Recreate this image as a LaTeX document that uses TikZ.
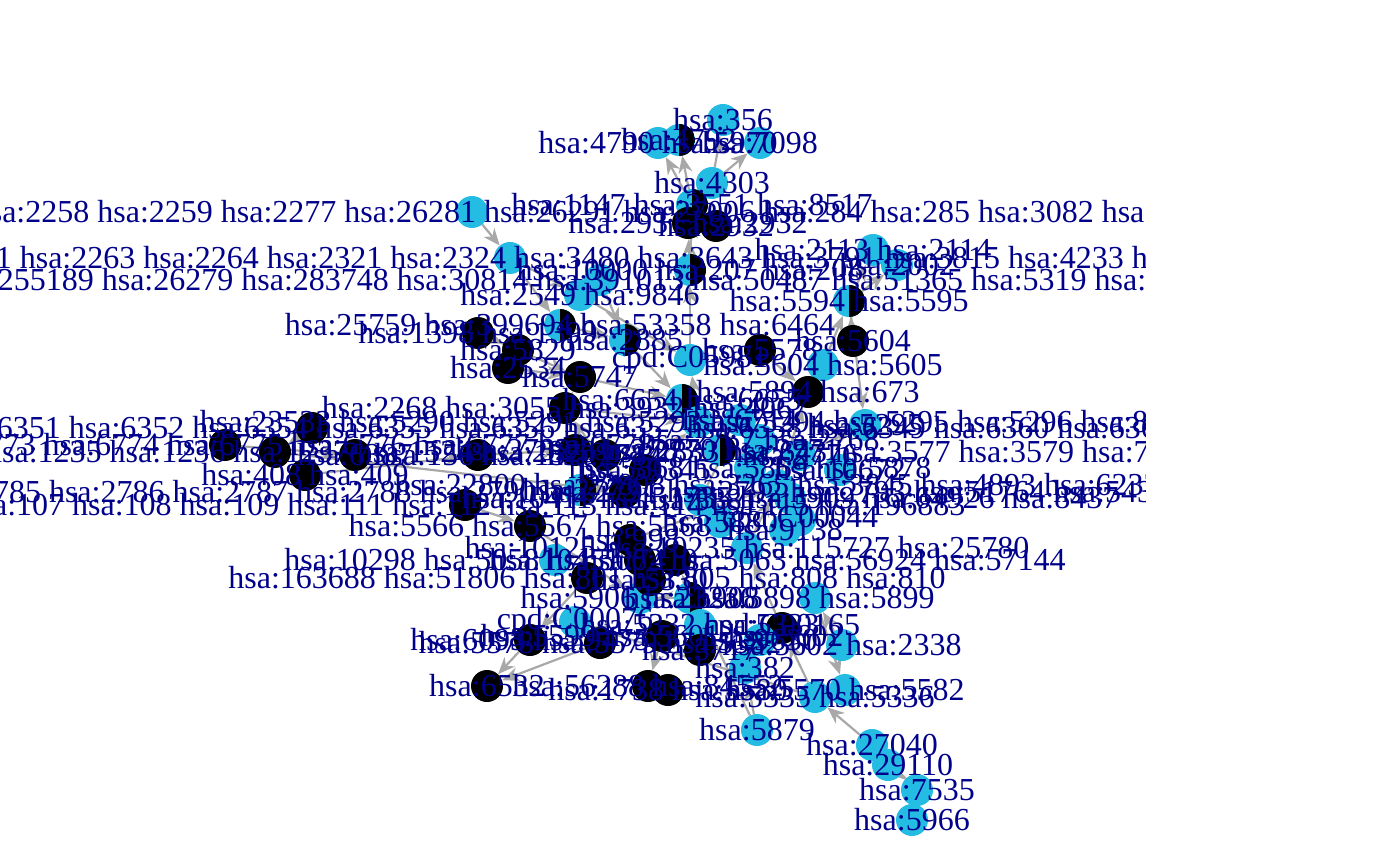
\documentclass[tikz,border=0pt]{standalone}
\usepackage{fontspec}
\setmainfont{Liberation Serif}
\usetikzlibrary{arrows.meta}

\definecolor{vblue}{RGB}{37,188,228}
\definecolor{vtext}{RGB}{0,0,139}
\definecolor{vedge}{RGB}{168,168,168}

% name/x/y/kind/label
\newcommand\vertexlist{%
n356/723/120/b/hsa:356,
n4790/658/143/b/hsa:4790 hsa:5970,
n4792/679/140/h/hsa:4792,
n7098/760/143/b/hsa:7098,
n4303/712/183/b/hsa:4303,
nikk/692/205/h/hsa:1147 hsa:3551 hsa:8517,
n2931/688/223/k/hsa:2931 hsa:2932,
n2932/716/226/k/hsa:2932,
nfgf/472/212/b/hsa:2256 hsa:2257 hsa:2258 hsa:2259 hsa:2277 hsa:26281 hsa:26291 hsa:27006 hsa:284 hsa:285 hsa:3082 hsa:3479,
nrtk/510/258/b/hsa:2260 hsa:2261 hsa:2263 hsa:2264 hsa:2321 hsa:2324 hsa:3480 hsa:3643 hsa:3791 hsa:3815 hsa:4233 hsa:4914,
npla/600/280/b/hsa:100137049 hsa:255189 hsa:26279 hsa:283748 hsa:30814 hsa:391013 hsa:50487 hsa:51365 hsa:5319 hsa:5320 hsa:5322 hsa:5337,
ngab/580/295/b/hsa:2549 hsa:9846,
nakt/690/270/h/hsa:10000 hsa:207 hsa:208,
nets/873/250/b/hsa:2113 hsa:2114,
nelk/897/265/b/hsa:2002,
nerk/849/301/h/hsa:5594 hsa:5595,
nshc/560/325/h/hsa:25759 hsa:399694 hsa:53358 hsa:6464,
ngrb/625/340/h/hsa:2885,
ncrk/478/333/k/hsa:1398 hsa:1399,
npxn/518/350/k/hsa:5829,
nfyn/508/368/k/hsa:2534,
nfak/580/377/k/hsa:5747,
npip/690/360/b/cpd:C05981,
nprk/760/350/k/hsa:5578,
nmekb/853/341/k/hsa:5604,
nmek/823/365/b/hsa:5604 hsa:5605,
nraf/808/392/k/hsa:5894 hsa:673,
nsos/682/400/h/hsa:6654 hsa:6655,
nsrc/565/408/k/hsa:2268 hsa:3055 hsa:3932 hsa:4067,
npik/698/422/b/hsa:23533 hsa:5290 hsa:5291 hsa:5293 hsa:5294 hsa:5295 hsa:5296 hsa:8503,
nccl/312/428/k/hsa:6346 hsa:6347 hsa:6348 hsa:6350 hsa:6351 hsa:6352 hsa:6354 hsa:6355 hsa:6356 hsa:6357 hsa:6358 hsa:6349 hsa:6360 hsa:6364,
nstat/225/445/k/hsa:6772 hsa:6773 hsa:6774 hsa:6775 hsa:6776 hsa:6777 hsa:6778,
nccr/275/452/k/hsa:10663 hsa:1230 hsa:1232 hsa:1233 hsa:1234 hsa:1235 hsa:1236 hsa:1237 hsa:1524 hsa:2826 hsa:2833 hsa:643 hsa:3577 hsa:3579 hsa:7852,
ncx/355/455/k/hsa:6387,
narr/305/475/k/hsa:408 hsa:409,
ngrk/478/455/k/hsa:156 hsa:157,
nhub/865/425/b/hsa:5295,
ngng/625/492/k/hsa:2785 hsa:2786 hsa:2787 hsa:2788 hsa:2790 hsa:2791 hsa:2792 hsa:2793 hsa:51764 hsa:54331 hsa:55970,
nadcy/465/505/k/hsa:107 hsa:108 hsa:109 hsa:111 hsa:112 hsa:113 hsa:114 hsa:115 hsa:196883,
npka/530/526/k/hsa:5566 hsa:5567 hsa:5568,
nras/777/485/b/hsa:22800 hsa:22808 hsa:3265 hsa:3845 hsa:4893 hsa:6237,
ngef/790/498/b/hsa:10411 hsa:51735 hsa:5909 hsa:64926 hsa:8437,
nrab/750/468/b/hsa:5868 hsa:5869 hsa:5878,
ngtp/800/520/b/cpd:C00044,
ngrp/747/548/b/hsa:10125 hsa:10235 hsa:115727 hsa:25780,
npak/675/560/k/hsa:10298 hsa:5058 hsa:5062 hsa:5063 hsa:56924 hsa:57144,
ncalm/587/578/k/hsa:163688 hsa:51806 hsa:801 hsa:805 hsa:808 hsa:810,
nrap/640/598/b/hsa:5906 hsa:5908,
nral/815/598/b/hsa:5898 hsa:5899,
nca/575/622/b/cpd:C00076,
ndag/782/628/k/cpd:C00165,
npkc/600/643/k/hsa:5578 hsa:5579 hsa:5582,
nrock/530/640/k/hsa:6093 hsa:9475,
njnk/662/636/k/hsa:5599 hsa:5601 hsa:5602,
np38/842/645/b/hsa:5602 hsa:2338,
narf/745/668/b/hsa:382,
nplc/815/697/b/hsa:5335 hsa:5336,
n5570/845/690/b/hsa:5570 hsa:5582,
nslc/487/686/k/hsa:6532,
npar/648/686/k/hsa:56288 hsa:84552,
nmlc/668/690/k/hsa:1738 hsa:5580,
nrac/757/730/b/hsa:5879,
nlat/872/745/b/hsa:27040,
ntbk/888/765/b/hsa:29110,
nzap/917/790/b/hsa:7535,
nrel/912/820/b/hsa:5966,
c1/740/420/b/hsa:6714,
c2/760/440/b/hsa:2767 hsa:2768,
c3/720/450/h/hsa:2770 hsa:2771,
c4/800/455/b/hsa:2776,
c5/840/470/b/hsa:10672,
c6/575/450/k/hsa:2782 hsa:2783,
c7/605/455/k/hsa:2784,
c8/645/470/k/hsa:59345,
c9/580/490/h/hsa:2773,
c10/700/500/b/hsa:5881,
c11/720/522/b/hsa:5880,
c12/630/540/k/hsa:998,
c13/640/560/k/hsa:7410,
c14/555/560/b/hsa:10451,
c15/650/580/k/hsa:5330,
c16/690/598/h/hsa:23236,
c17/700/625/b/hsa:5332 hsa:5333,
c18/760/640/b/hsa:9630,
c19/700/650/k/hsa:3717,
c20/785/530/b/hsa:9138%
}

\newcommand\edgelist{%
nfgf/nrtk, nrtk/nshc, nrtk/ngab, nshc/ngrb, ngrb/nsos, ngab/npip,
npip/nakt, nakt/nikk, nakt/n2931, nikk/n4792, nikk/n4790, n2931/n4303,
n4303/n356, n4303/n7098, nerk/nets, nerk/nelk, nmek/nerk, nmekb/nerk,
nraf/nmek, nras/nraf, nsos/nras, nprk/nraf, ncrk/npxn, nsrc/nfak,
nfak/nsos, nccl/nccr, nccr/ngng, narr/ngrk, ngng/npik, ngng/nsrc,
npik/npip, nadcy/npka, npka/nrap, ngtp/nras, ngrp/nras, nplc/ndag,
nplc/nca, ndag/ngrp, nca/npkc, npkc/nslc, nrock/nslc, nrac/npak,
nrac/narf, nlat/nplc, nzap/nlat, nrel/nzap, ntbk/nzap, nral/n5570,
np38/nral, c12/nras, c10/c1, nmlc/npar, njnk/npar, c16/nrap,
npla/ngrb, ncrk/nfak, nfyn/nfak, nsrc/npik, ngrk/c6, ncalm/nrock,
nstat/ncx, nerk/nhub, c4/nhub%
}

\begin{document}
\begin{tikzpicture}[x=1pt, y=-1pt,
  every vertex/.style={circle, minimum size=32pt, inner sep=0pt, draw=none},
  vertex b/.style={every vertex, fill=vblue},
  vertex k/.style={every vertex, fill=black},
  vertex h/.style={every vertex, fill=vblue,
    path picture={\fill[black] (path picture bounding box.north)
      rectangle (path picture bounding box.south east);}},
  vlabel/.style={text=vtext, inner sep=0pt, font=\fontsize{32}{32}\selectfont},
  link/.style={draw=vedge, line width=2.2pt, -{Stealth[length=17pt,width=14pt]}}]

\useasboundingbox (0,0) rectangle (1400,866);
\clip (0,0) rectangle (1145,866);

% vertex places
\foreach \n/\x/\y/\k/\t in \vertexlist
  \node [every vertex] (\n) at (\x,\y) {};

% edges
\foreach \a/\b in \edgelist
  \draw [link] (\a) -- (\b);

% vertices
\foreach \n/\x/\y/\k/\t in \vertexlist
  \node [vertex \k] (d-\n) at (\n) {};

% names of vertices
\foreach \n/\x/\y/\k/\t in \vertexlist
  \node [vlabel] (l-\n) at (\n) {\t};
\end{tikzpicture}
\end{document}
